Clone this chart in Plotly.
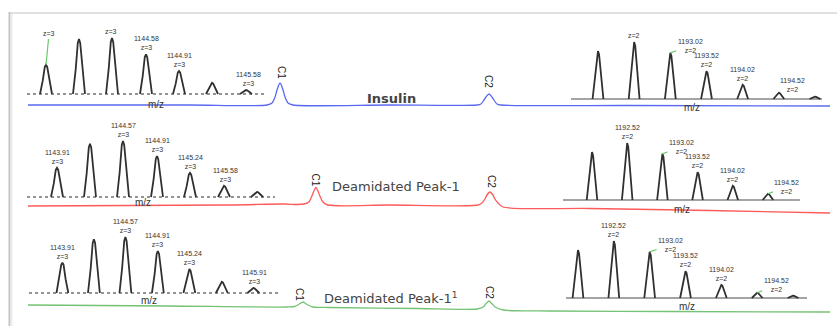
import plotly.graph_objects as go

W, H = 837, 326

# ---------------- chromatogram data (time in min, response in mAU relative to start baseline)
insulin_t = [0.0, 8.0, 11.92, 12.17, 12.32, 12.42, 12.57, 12.72, 12.82, 12.97, 13.22, 18.0,
             22.39, 22.59, 22.74, 22.84, 22.99, 23.14, 23.24, 23.39, 23.59, 30.0, 40.0]
insulin_y = [0, 0, 0, 2, 8, 15, 22, 15, 8, 2, 0, 0,
             0, 1, 5, 8, 11, 8, 5, 1, 0, -0.5, -1]

deam1_t = [0.0, 10.0, 12.8, 13.4, 13.76, 14.01, 14.16, 14.26, 14.36, 14.46, 14.56, 14.71, 14.96, 18.0,
           22.44, 22.64, 22.79, 22.89, 23.04, 23.19, 23.29, 23.44, 23.69, 28.0, 34.0, 40.0]
deam1_y = [-1, 0, 1, 0.5, 1, 3, 9, 14, 17.5, 14, 9, 3, 0, 0,
           0, 2, 6, 10, 13, 10, 6, 2, -2, -3.5, -5.5, -8]

deam2_t = [0.0, 7.0, 12.9, 13.3, 13.5, 13.72, 13.92, 14.2, 15.0, 19.5,
           22.4, 22.7, 22.85, 22.99, 23.13, 23.3, 23.7, 26.0, 32.0, 40.0]
deam2_y = [0, -1, -2, -1.5, 0.5, 3, 0.5, -2, -2.5, -3.5,
           -4, -2, 1.5, 4, 1.5, -2, -5, -6, -6.5, -7]

peak_names = ["C1", "C2"]
insulin_peak_t = [12.57, 22.99]
insulin_peak_y = [22, 11]
deam1_peak_t = [14.36, 23.04]
deam1_peak_y = [17.5, 13]
deam2_peak_t = [13.72, 22.99]
deam2_peak_y = [3, 4]

trace_names = ["Insulin", "Deamidated Peak-1", "Deamidated Peak-1<sup>1</sup>"]

# ---------------- mass spectra data (m/z, relative intensity %)
ms1_mz = [1143.58, 1143.91, 1144.24, 1144.58, 1144.91, 1145.24, 1145.58]
ms1_int = [52, 98, 100, 71, 41, 20, 7]
ms1_lab_idx = [0, 2, 3, 4, 6]
ms1_lab_txt = ["z=3", "z=3", "1144.58<br>z=3", "1144.91<br>z=3", "1145.58<br>z=3"]

ms2_mz = [1192.02, 1192.52, 1193.02, 1193.52, 1194.02, 1194.52, 1195.02]
ms2_int = [84, 100, 81, 49, 25, 11, 4]
ms2_lab_idx = [1, 2, 3, 4, 5]
ms2_lab_txt = ["z=2", "1193.02<br>z=2", "1193.52<br>z=2", "1194.02<br>z=2", "1194.52<br>z=2"]

ms3_mz = [1143.91, 1144.24, 1144.57, 1144.91, 1145.24, 1145.58, 1145.91]
ms3_int = [52, 95, 100, 73, 43, 20, 9]
ms3_lab_idx = [0, 2, 3, 4, 5]
ms3_lab_txt = ["1143.91<br>z=3", "1144.57<br>z=3", "1144.91<br>z=3", "1145.24<br>z=3", "1145.58<br>z=3"]

ms4_mz = [1192.02, 1192.52, 1193.02, 1193.52, 1194.02, 1194.52]
ms4_int = [84, 100, 81, 49, 25, 11]
ms4_lab_idx = [1, 2, 3, 4, 5]
ms4_lab_txt = ["1192.52<br>z=2", "1193.02<br>z=2", "1193.52<br>z=2", "1194.02<br>z=2", "1194.52<br>z=2"]

ms5_mz = [1143.91, 1144.24, 1144.57, 1144.91, 1145.24, 1145.58, 1145.91]
ms5_int = [54, 96, 100, 75, 43, 20, 9]
ms5_lab_idx = [0, 2, 3, 4, 6]
ms5_lab_txt = ["1143.91<br>z=3", "1144.57<br>z=3", "1144.91<br>z=3", "1145.24<br>z=3", "1145.91<br>z=3"]

ms6_mz = [1192.02, 1192.52, 1193.02, 1193.52, 1194.02, 1194.52, 1195.02]
ms6_int = [84, 100, 81, 47, 23, 9, 4]
ms6_lab_idx = [1, 2, 3, 4, 5]
ms6_lab_txt = ["1192.52<br>z=2", "1193.02<br>z=2", "1193.52<br>z=2", "1194.02<br>z=2", "1194.52<br>z=2"]

# ---------------- layout helpers (pixel boxes -> paper domains)
def xdom(x0, x1):
    return [x0 / W, x1 / W]

def ydom_from(yb, unit_px, lo, hi):
    top = yb - hi * unit_px
    bot = yb - lo * unit_px
    return [1 - bot / H, 1 - top / H]

fig = go.Figure()
layout = dict(width=W, height=H, margin=dict(l=0, r=0, t=0, b=0),
              paper_bgcolor="white", plot_bgcolor="rgba(0,0,0,0)", showlegend=False)
annotations = []
shapes = []

hidden = dict(visible=False, fixedrange=True)

# ---------------- chromatograms
layout["xaxis"] = dict(domain=xdom(28, 830), range=[0, 40], anchor="y", **hidden)

chroms = [
    dict(t=insulin_t, y=insulin_y, pt=insulin_peak_t, py=insulin_peak_y, color="#5a6af0",
         yb=105, lo=-12, hi=30, name=trace_names[0], name_t=18.15, name_y=7, name_anchor="center",
         bold=True, cshift=[(2, 11), (0, 12)]),
    dict(t=deam1_t, y=deam1_y, pt=deam1_peak_t, py=deam1_peak_y, color="#ff5a5a",
         yb=205, lo=-12, hi=25, name=trace_names[1], name_t=15.06, name_y=19, name_anchor="left",
         bold=False, cshift=[(0, 7), (2, 10)]),
    dict(t=deam2_t, y=deam2_y, pt=deam2_peak_t, py=deam2_peak_y, color="#74c274",
         yb=305, lo=-12, hi=12, name=trace_names[2], name_t=14.66, name_y=7, name_anchor="left",
         bold=False, cshift=[(-3, 8), (1, 8)]),
]
for i, c in enumerate(chroms):
    yname = "y" if i == 0 else f"y{i+1}"
    ykey = "yaxis" if i == 0 else f"yaxis{i+1}"
    layout[ykey] = dict(domain=ydom_from(c["yb"], 1.0, c["lo"], c["hi"]),
                        range=[c["lo"], c["hi"]], anchor="x", **hidden)
    fig.add_trace(go.Scatter(x=c["t"], y=c["y"], mode="lines", xaxis="x", yaxis=yname,
                             line=dict(color=c["color"], width=1.3, shape="spline", smoothing=0.8),
                             hoverinfo="skip"))
    for k, (pt, py) in enumerate(zip(c["pt"], c["py"])):
        dx, dy = c["cshift"][k]
        annotations.append(dict(x=pt, y=py, xref="x", yref=yname, text=peak_names[k],
                                showarrow=False, textangle=90, xanchor="center", yanchor="middle",
                                xshift=dx, yshift=dy,
                                font=dict(family="Liberation Sans", size=10, color="#222222")))
    txt = f"<b>{c['name']}</b>" if c["bold"] else c["name"]
    annotations.append(dict(x=c["name_t"], y=c["name_y"], xref="x", yref=yname, text=txt,
                            showarrow=False, xanchor=c["name_anchor"], yanchor="middle",
                            font=dict(family="DejaVu Sans", size=13, color="#444444")))

# ---------------- mass spectra insets
spectra = [
    dict(mz=ms1_mz, it=ms1_int, li=ms1_lab_idx, lt=ms1_lab_txt, px=(27, 267), rng=(1143.39, 1145.79),
         yb=94, hpx=56, dotted=True, w=0.06, mzpos=(156, 10),
         leaders={0: (3, -31)}, lshift={2: (-1, 0), 6: (2, 0)}),
    dict(mz=ms2_mz, it=ms2_int, li=ms2_lab_idx, lt=ms2_lab_txt, px=(571, 822), rng=(1191.647, 1195.117),
         yb=99, hpx=57, dotted=False, w=0.075, mzpos=(692, 8),
         leaders={2: (20, -7), 5: (14, -8)}, lshift={}),
    dict(mz=ms3_mz, it=ms3_int, li=ms3_lab_idx, lt=ms3_lab_txt, px=(27, 275), rng=(1143.61, 1146.09),
         yb=197, hpx=56, dotted=True, w=0.06, mzpos=(143, 6),
         leaders={}, lshift={5: (1, 0)}),
    dict(mz=ms4_mz, it=ms4_int, li=ms4_lab_idx, lt=ms4_lab_txt, px=(563, 800), rng=(1191.608, 1194.975),
         yb=200, hpx=57, dotted=False, w=0.075, mzpos=(682, 9),
         leaders={2: (19, -7), 5: (19, -7)}, lshift={}),
    dict(mz=ms5_mz, it=ms5_int, li=ms5_lab_idx, lt=ms5_lab_txt, px=(29, 281), rng=(1143.56, 1146.20),
         yb=293, hpx=56, dotted=True, w=0.062, mzpos=(149, 7),
         leaders={}, lshift={6: (1, 0)}),
    dict(mz=ms6_mz, it=ms6_int, li=ms6_lab_idx, lt=ms6_lab_txt, px=(566, 807), rng=(1191.853, 1195.215),
         yb=298, hpx=57, dotted=False, w=0.075, mzpos=(687, 8),
         leaders={2: (21, -7), 5: (19, -8)}, lshift={}),
]

lab_font = dict(family="Liberation Sans", size=7, color="#333333")
for j, s in enumerate(spectra):
    xn, yn = f"x{j+2}", f"y{j+4}"
    lo, hi = -6, 112
    unit = s["hpx"] / 100.0
    layout[f"xaxis{j+2}"] = dict(domain=xdom(*s["px"]), range=list(s["rng"]), anchor=yn, **hidden)
    layout[f"yaxis{j+4}"] = dict(domain=ydom_from(s["yb"], unit, lo, hi), range=[lo, hi],
                                 anchor=xn, **hidden)
    fig.add_trace(go.Scatter(x=list(s["rng"]), y=[0, 0], mode="lines", xaxis=xn, yaxis=yn,
                             line=dict(color="#2a2a2a" if s["dotted"] else "#4a4a4a",
                                       width=1.2, dash="dot" if s["dotted"] else "solid"),
                             hoverinfo="skip"))
    xs, ys = [], []
    w = s["w"]
    for m, h in zip(s["mz"], s["it"]):
        xs += [m - w, m - 0.55 * w, m - 0.2 * w, m, m + 0.2 * w, m + 0.55 * w, m + w, None]
        ys += [0, 0.45 * h, 0.93 * h, h, 0.93 * h, 0.45 * h, 0, None]
    fig.add_trace(go.Scatter(x=xs, y=ys, mode="lines", xaxis=xn, yaxis=yn,
                             line=dict(color="#303030", width=1.8), hoverinfo="skip"))
    for idx, txt in zip(s["li"], s["lt"]):
        mx, my = s["mz"][idx], s["it"][idx]
        if idx in s["leaders"]:
            ax, ay = s["leaders"][idx]
            annotations.append(dict(x=mx, y=my, xref=xn, yref=yn, text=txt, showarrow=True,
                                    arrowhead=0, arrowwidth=1.2, arrowcolor="#6cc86c",
                                    ax=ax, ay=ay, standoff=0, startstandoff=0,
                                    xanchor="center", yanchor="middle", font=lab_font))
        else:
            dx, dy = s["lshift"].get(idx, (0, 0))
            annotations.append(dict(x=mx, y=my, xref=xn, yref=yn, text=txt, showarrow=False,
                                    xanchor="center", yanchor="bottom", xshift=dx, yshift=1 + dy,
                                    font=lab_font))
    x0, x1 = s["px"]
    annotations.append(dict(x=(s["mzpos"][0] - x0) / (x1 - x0), y=0, xref=f"{xn} domain", yref=yn,
                            text="m/z", showarrow=False, xanchor="center", yanchor="middle",
                            yshift=-s["mzpos"][1],
                            font=dict(family="Liberation Sans", size=10, color="#333333")))

# ---------------- frame
shapes.append(dict(type="line", xref="paper", yref="paper", x0=9 / W, x1=1, y0=1 - 13 / H, y1=1 - 13 / H,
                   line=dict(color="#e0e0e0", width=2)))
shapes.append(dict(type="line", xref="paper", yref="paper", x0=9.5 / W, x1=9.5 / W, y0=0, y1=1 - 12 / H,
                   line=dict(color="#c4c4c4", width=2)))
shapes.append(dict(type="line", xref="paper", yref="paper", x0=11.5 / W, x1=11.5 / W, y0=0, y1=1 - 14 / H,
                   line=dict(color="#ececec", width=2)))

layout["annotations"] = annotations
layout["shapes"] = shapes
fig.update_layout(**layout)
fig.write_html("out.html")
